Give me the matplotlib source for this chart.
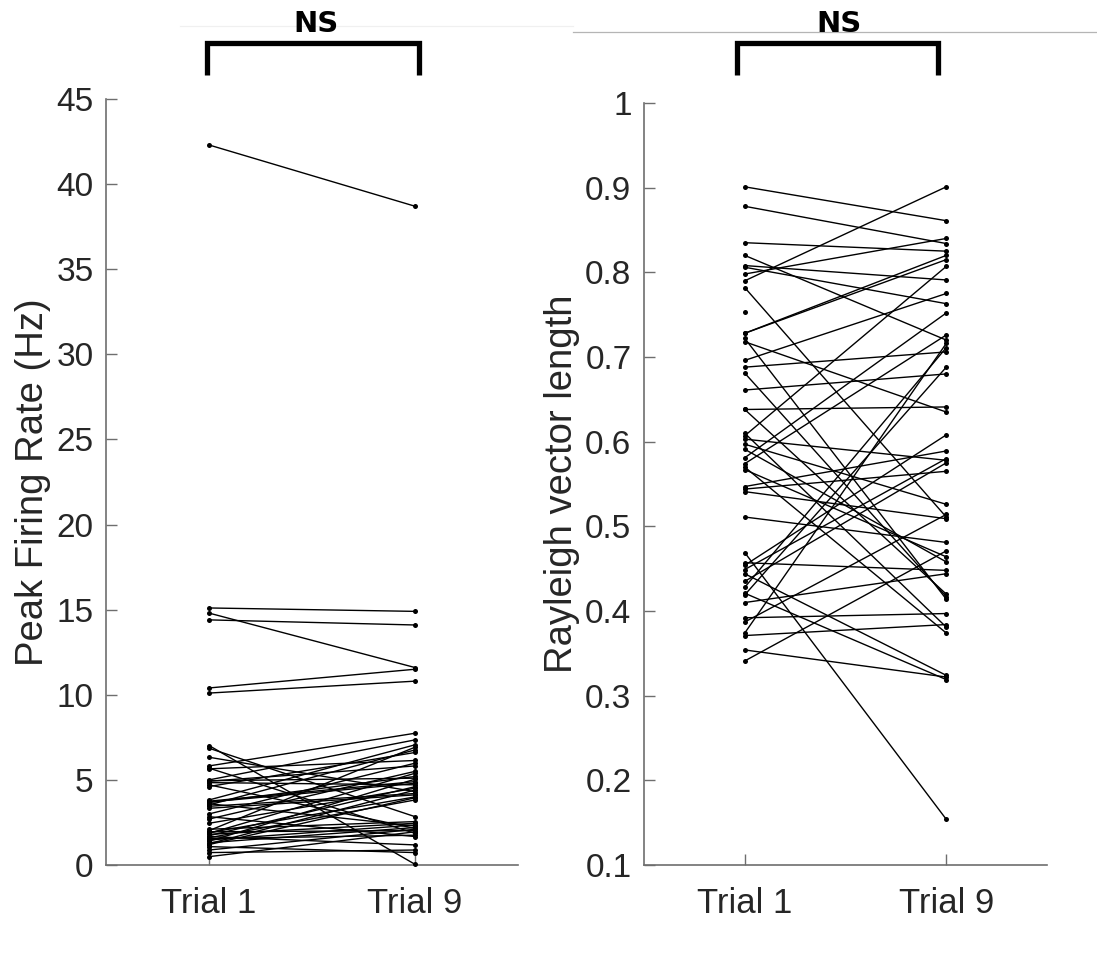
import numpy as np
import matplotlib
matplotlib.use("Agg")
import matplotlib.pyplot as plt
from matplotlib.lines import Line2D
from matplotlib import transforms

plt.rcParams['font.family'] = ['Liberation Sans', 'DejaVu Sans']

# ---------------- data ----------------
categories = ["Trial 1", "Trial 9"]

rate_trial1 = [42.3, 15.1, 14.8, 14.4, 10.4, 10.1,
               7.02, 6.86, 6.33, 5.82, 5.69, 5.65, 5.0, 4.92, 4.84, 4.71, 4.61,
               3.82, 3.75, 3.67, 3.60, 3.53, 3.33, 3.0, 2.84, 2.45, 2.02, 1.95,
               1.86, 1.80, 1.72, 1.67, 1.60, 1.47, 1.40, 1.31, 1.25, 1.08, 0.88,
               0.73, 0.49, 3.45, 2.10, 1.55, 4.95, 1.90, 2.70, 3.70, 1.20]
rate_trial9 = [38.7, 14.9, 11.6, 14.1, 11.5, 10.8,
               0.04, 2.84, 4.31, 7.74, 1.86, 6.14, 7.35, 5.82, 4.71, 2.15, 6.61,
               7.06, 4.90, 5.20, 2.29, 6.76, 4.12, 5.98, 1.67, 4.51, 6.92, 2.02,
               5.39, 2.45, 4.60, 1.18, 3.82, 2.35, 5.04, 2.20, 4.40, 0.73, 2.10,
               0.88, 1.95, 4.20, 2.55, 1.75, 5.10, 4.00, 5.50, 4.80, 3.95]

rvl_trial1 = [0.901, 0.878, 0.835, 0.820, 0.808, 0.806, 0.798, 0.790, 0.782,
              0.753, 0.728, 0.728, 0.722, 0.718, 0.696, 0.688, 0.681, 0.661,
              0.638, 0.638, 0.610, 0.607, 0.603, 0.597, 0.591, 0.581, 0.574,
              0.570, 0.567, 0.547, 0.544, 0.541, 0.511, 0.469, 0.457, 0.454,
              0.449, 0.444, 0.435, 0.428, 0.421, 0.419, 0.410, 0.392, 0.387,
              0.374, 0.371, 0.354, 0.341]
rvl_trial9 = [0.861, 0.834, 0.825, 0.720, 0.791, 0.763, 0.840, 0.901, 0.511,
              np.nan, 0.820, 0.815, 0.414, 0.635, 0.775, 0.706, 0.417, 0.680,
              0.641, 0.420, 0.381, 0.807, 0.578, 0.526, 0.458, 0.752, 0.726,
              0.374, 0.464, 0.589, 0.565, 0.509, 0.481, 0.154, 0.448, 0.608,
              0.580, 0.324, 0.575, 0.711, 0.319, 0.688, 0.444, 0.397, 0.514,
              0.716, 0.384, 0.322, 0.471]

rate_yticks = [0, 5, 10, 15, 20, 25, 30, 35, 40, 45]
rvl_yticks = [0.1, 0.2, 0.3, 0.4, 0.5, 0.6, 0.7, 0.8, 0.9, 1.0]
rvl_yticklabels = ["0.1", "0.2", "0.3", "0.4", "0.5", "0.6", "0.7", "0.8", "0.9", "1"]

# ---------------- figure ----------------
W, H = 1097, 963
fig = plt.figure(figsize=(W / 100, H / 100), dpi=100)
fig.patch.set_facecolor('white')

ax1 = fig.add_axes([106 / W, (H - 865) / H, (518 - 106) / W, (865 - 99) / H])
ax2 = fig.add_axes([644 / W, (H - 865) / H, (1047 - 644) / W, (865 - 103) / H])

spine_col = '#6e6e6e'
text_col = '#262626'

def style(ax):
    for s in ['top', 'right']:
        ax.spines[s].set_visible(False)
    for s in ['left', 'bottom']:
        ax.spines[s].set_color(spine_col)
        ax.spines[s].set_linewidth(1.2)
    ax.tick_params(direction='in', length=8, width=1.0, color=spine_col,
                   labelsize=24, labelcolor=text_col)
    ax.tick_params(axis='y', pad=9)
    ax.tick_params(axis='x', pad=16, labelsize=25)
    ax.set_xlim(0.5, 2.5)
    ax.set_xticks([1, 2])
    ax.set_xticklabels(categories)

def draw_pairs(ax, a, b):
    for y1, y9 in zip(a, b):
        ax.plot([1, 2], [y1, y9], color='black', lw=1.0, marker='o',
                markersize=3.6, markerfacecolor='black', markeredgewidth=0,
                clip_on=False, zorder=3)

draw_pairs(ax1, rate_trial1, rate_trial9)
draw_pairs(ax2, rvl_trial1, rvl_trial9)

style(ax1)
style(ax2)

ax1.set_ylim(0, 45)
ax1.set_yticks(rate_yticks)
ax2.set_ylim(0.1, 1.0)
ax2.set_yticks(rvl_yticks)
ax2.set_yticklabels(rvl_yticklabels)

ax1.set_ylabel("Peak Firing Rate (Hz)", fontsize=27.5, color=text_col)
ax2.set_ylabel("Rayleigh vector length", fontsize=27.5, color=text_col)
ax1.yaxis.set_label_coords((51 - 106) / 412, 0.5)
ax2.yaxis.set_label_coords((580 - 644) / 403, 0.5)

# significance brackets
def bracket(ax, x0, x1, label, xt):
    tr = transforms.blended_transform_factory(ax.transData, fig.transFigure)
    ytop = 1 - 43 / H
    ybot = 1 - 75 / H
    ln = Line2D([x0, x0, x1, x1], [ybot, ytop, ytop, ybot], transform=tr,
                color='black', lw=3.8, solid_joinstyle='miter',
                solid_capstyle='butt', clip_on=False)
    fig.add_artist(ln)
    fig.text(xt, 1 - 24 / H, label, transform=tr, fontsize=21,
             fontweight='bold', family='DejaVu Sans', ha='center', va='center')

bracket(ax1, 0.99, 2.02, "NS", 1.52)
bracket(ax2, 0.96, 1.96, "NS", 1.47)

# thin lines near the top of the image
fig.add_artist(Line2D([573 / W, 1.0], [1 - 32 / H, 1 - 32 / H],
                      transform=fig.transFigure, color='#b5b5b5', lw=0.9))
fig.add_artist(Line2D([180 / W, 573 / W], [1 - 26 / H, 1 - 26 / H],
                      transform=fig.transFigure, color='#f0f0f0', lw=0.9))

fig.savefig("out.png", dpi=100, facecolor='white')
